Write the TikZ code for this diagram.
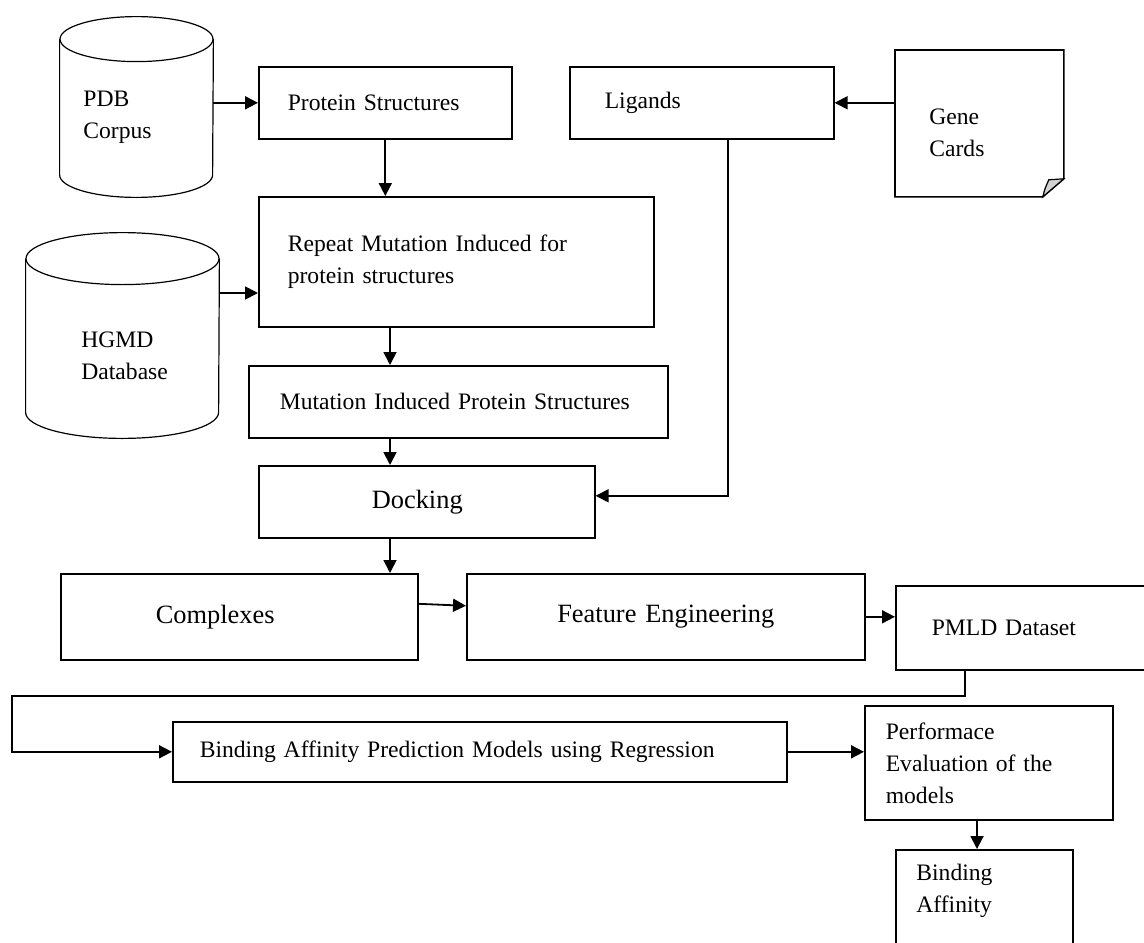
\documentclass[tikz,border=0pt]{standalone}
\usepackage{fontspec}
\setmainfont{Liberation Serif}
\usetikzlibrary{arrows.meta, calc}

\newcommand{\normtxt}{\fontsize{11.8}{16}\selectfont}
\newcommand{\bigtxt}{\fontsize{13.2}{16}\selectfont}

% database drum round a named box: name, x radius, y radius
\newcommand{\dbcyl}[3]{%
  \draw[line width=0.6pt] ([yshift=-#3]#1.north) ellipse [x radius=#2, y radius=#3];
  \draw[line width=0.6pt] ([yshift=-#3]#1.north west) -- ([yshift=#3]#1.south west)
    arc[start angle=180, end angle=360, x radius=#2, y radius=#3]
    -- ([yshift=-#3]#1.north east);}

\begin{document}
\begin{tikzpicture}[
  x=0.5pt, y=-0.5pt,
  >={Triangle[length=6.5pt, width=6.5pt]},
  blk/.style={draw, line width=0.8pt, anchor=north west, inner ysep=0pt,
    align=left, font=\normtxt},
  dbase/.style={inner sep=0pt},
  lbl/.style={anchor=west, align=left, font=\normtxt, inner sep=0pt},
  arr/.style={->, line width=0.9pt},
]

% Page (pixel units, y down)
\useasboundingbox (0,0) rectangle (1144,942);
\clip (0,0) rectangle (1144,942);
\fill[white] (0,0) rectangle (1144,942);

% Arrow columns
\coordinate (col) at (390,0);
\coordinate (col2) at (977,0);
\coordinate (loopl) at (12,696);

% --- Sources ---
\node[dbase, minimum width=76.5pt, minimum height=90pt] (pdb) at (136.5,107) {};
\dbcyl{pdb}{38.25pt}{11.25pt}
\node[lbl] (pdbtxt) at (83,117.5) {PDB\\Corpus};

\node[dbase, minimum width=96.5pt, minimum height=102.5pt] (hgmd) at (122.5,335.5) {};
\dbcyl{hgmd}{48.25pt}{13pt}
\node[lbl] (hgmdtxt) at (81,356) {HGMD\\Database};

\node[anchor=north west, minimum width=84pt, minimum height=73pt, inner sep=0pt]
  (gene) at (895,50) {};
\draw[line width=0.8pt] (gene.north west) -- (gene.north east)
  -- ([yshift=9pt]gene.south east) -- ([xshift=-10.5pt]gene.south east)
  -- (gene.south west) -- cycle;
\filldraw[fill=gray!35, line width=0.6pt] ([xshift=-10.5pt]gene.south east)
  .. controls ([xshift=-9.5pt, yshift=4pt]gene.south east) ..
  ([xshift=-7.5pt, yshift=8.5pt]gene.south east)
  -- ([yshift=9pt]gene.south east) -- cycle;
\node[lbl] (genetxt) at (929,132.5) {Gene\\Cards};

% --- Pipeline boxes ---
\node[blk, minimum height=36pt, inner xsep=14.5pt, text width=97.5pt]
  (prot) at (258,66) {Protein Structures};
\node[blk, minimum height=36pt, inner xsep=17.5pt, text width=97pt]
  (lig) at (569,66) {Ligands};
\node[blk, minimum height=65pt, inner xsep=14.5pt, text width=168.5pt]
  (rep) at (258,196) {Repeat Mutation Induced for\\protein structures};
\node[blk, minimum height=36pt, inner xsep=15.5pt, text width=178.5pt]
  (mut) at (248,365) {Mutation Induced Protein Structures};
\node[blk, font=\bigtxt, minimum height=36pt, inner xsep=56.5pt, text width=55pt]
  (dock) at (258,465) {Docking};
\node[blk, font=\bigtxt, minimum height=43pt, inner xsep=47.5pt, text width=83.5pt]
  (cmpx) at (60,573) {Complexes};
\node[blk, font=\bigtxt, minimum height=43pt, inner xsep=0pt, text width=199pt,
  align=center] (feat) at (466,573) {Feature Engineering};
\node[blk, minimum height=42pt, inner xsep=18pt, text width=99pt]
  (pmld) at (895,585) {PMLD Dataset};
\node[blk, minimum height=30pt, inner xsep=13.5pt, text width=280pt]
  (bapm) at (172,721) {Binding Affinity Prediction Models using Regression};
\node[blk, minimum height=57pt, inner xsep=10.5pt, text width=103pt]
  (perf) at (864,705) {Performace\\Evaluation of the\\models};
\node[blk, minimum width=88.5pt, minimum height=60pt] (bind) at (895,849) {};
\node[lbl] (bindtxt) at (916,891) {Binding\\Affinity};

% --- Connectors ---
\draw[arr] (pdb.east |- prot.west) -- (prot.west);
\draw[arr] (prot.south) -- (prot.south |- rep.north);
\coordinate (hgout) at ([yshift=21.25pt]hgmd.east);
\draw[arr] (hgout) -- (hgout -| rep.west);
\draw[arr] (gene.west |- lig.east) -- (lig.east);
\draw[arr] (rep.south -| col) -- (mut.north -| col);
\draw[arr] (mut.south -| col) -- (dock.north -| col);
\draw[arr] ([xshift=13pt]lig.south) |- ([yshift=3pt]dock.east);
\draw[arr] (dock.south -| col) -- (cmpx.north -| col);
\draw[arr] ([yshift=6.5pt]cmpx.east) -- ([yshift=5.5pt]feat.west);
\draw[arr] (feat.east) -- (feat.east -| pmld.west);
\draw[arr] ([xshift=-33pt]pmld.south) |- (loopl) |- (bapm.west);
\draw[arr] (bapm.east) -- (bapm.east -| perf.west);
\draw[arr] (perf.south -| col2) -- (bind.north -| col2);

\end{tikzpicture}
\end{document}
